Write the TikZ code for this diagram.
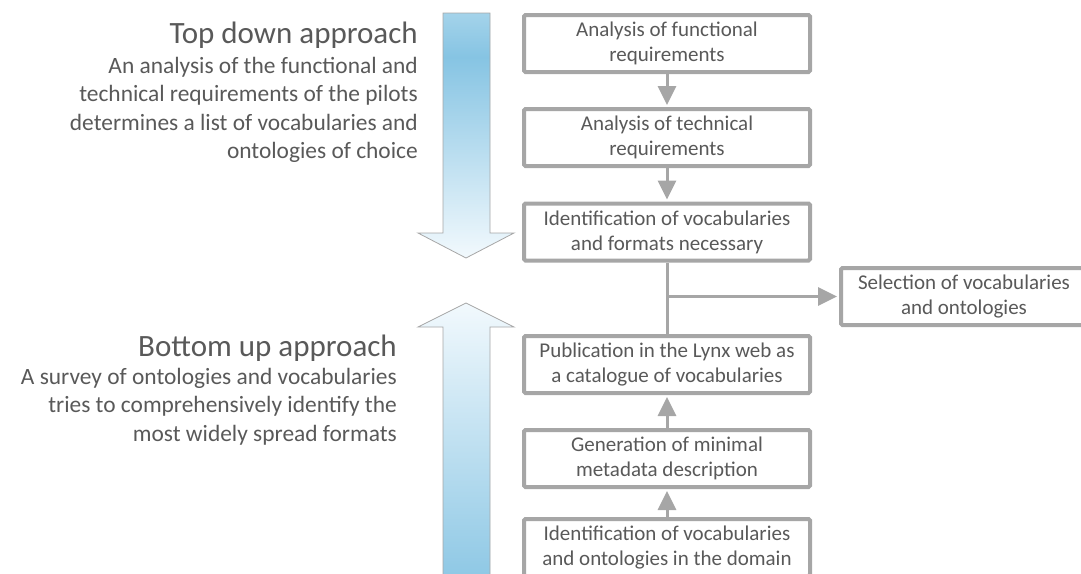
\documentclass[tikz,border=0pt]{standalone}
\usepackage{fontspec}
\setmainfont{Carlito}
\usetikzlibrary{arrows.meta}
\definecolor{txt}{HTML}{595959}
\definecolor{frame}{HTML}{A6A6A6}
\definecolor{blueD}{HTML}{86C4E3}
\definecolor{blueM}{HTML}{A4D3EA}
\definecolor{blueL}{HTML}{F2F9FD}
% darkest band near the top, fading out towards the tip
\pgfdeclareverticalshading{fadedown}{100bp}{color(0bp)=(blueL); color(25bp)=(blueL); color(66bp)=(blueD); color(75bp)=(blueM); color(100bp)=(blueM)}
\begin{document}
\begin{tikzpicture}[x=1pt,y=-1pt,
  stepbox/.style={draw=frame,line width=4pt,rounded corners=1.5pt,fill=white,text=txt,
    font=\fontsize{21}{25}\selectfont,align=center,minimum width=286pt,minimum height=57pt,inner sep=0pt},
  flow/.style={draw=frame,line width=3pt,-{Triangle[width=18pt,length=19pt]},shorten >=2pt},
  heading/.style={text=txt,font=\fontsize{31}{37}\selectfont,inner sep=0pt,anchor=base east},
  blurb/.style={text=txt,font=\fontsize{23.4}{28.5}\selectfont,align=right,inner sep=0pt,anchor=base east},
  bigarrow/.style={draw=frame,line width=0.8pt}]

\useasboundingbox (0,0) rectangle (1081,573);
\clip (0,0) rectangle (1081,573);

% broad arrows beside the two approaches
\shadedraw[bigarrow,shading=fadedown] (443,13) -- (490,13) -- (490,233) -- (514,233) -- (466,258)
  -- (418,233) -- (443,233) -- cycle;
\shadedraw[bigarrow,top color=blueL,bottom color=blueD] (466,303) -- (514,327) -- (490,327)
  -- (490,600) -- (443,600) -- (443,327) -- (418,327) -- cycle;

% steps of the process
\node[stepbox] (func) at (667,43.5) {Analysis of functional\\requirements};
\node[stepbox] (tech) at (667,137.5) {Analysis of technical\\requirements};
\node[stepbox] (ident) at (667,232) {Identification of vocabularies\\and formats necessary};
\node[stepbox] (pub) at (667,364.5) {Publication in the Lynx web as\\a catalogue of vocabularies};
\node[stepbox] (meta) at (667,458.5) {Generation of minimal\\metadata description};
\node[stepbox] (domain) at (667,547.5) {Identification of vocabularies\\and ontologies in the domain};
\node[stepbox,minimum width=246pt] (sel) at (964,296.5) {Selection of vocabularies\\and ontologies};

% connectors
\coordinate (junc) at (ident.south |- sel.west);
\draw[frame,line width=3pt] (ident.south) -- (pub.north);
\draw[flow] (func.south) -- (tech.north);
\draw[flow] (tech.south) -- (ident.north);
\draw[flow] (junc) -- (sel.west);
\draw[flow] (meta.north) -- (pub.south);
\draw[flow] (domain.north) -- (meta.south);

% descriptions (a multi-line node sits on the baseline of its last line)
\node[heading] (tdtitle) at (418,43) {Top down approach};
\node[blurb] (tdtext) at (418,158.5) {An analysis of the functional and\\technical requirements of the pilots\\determines a list of vocabularies and\\ontologies of choice};
\node[heading] (butitle) at (397,356) {Bottom up approach};
\node[blurb] (butext) at (397,441) {A survey of ontologies and vocabularies\\tries to comprehensively identify the\\most widely spread formats};
\end{tikzpicture}
\end{document}
